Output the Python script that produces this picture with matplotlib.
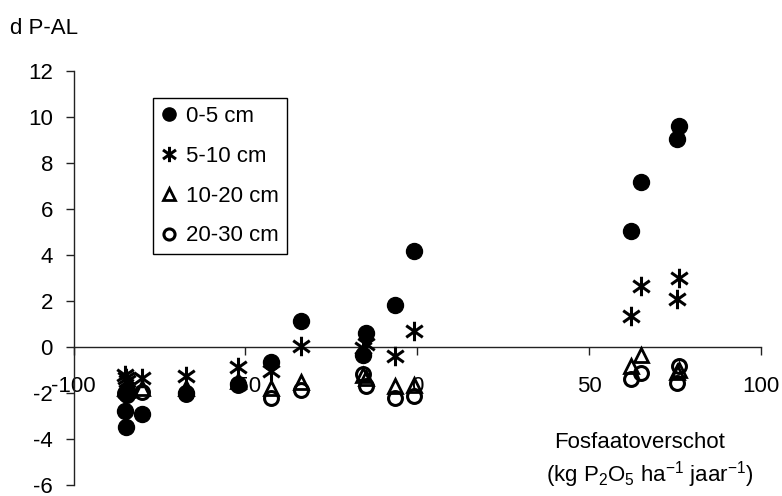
import matplotlib
matplotlib.use("Agg")
import matplotlib.pyplot as plt
from matplotlib.path import Path

plt.rcParams['font.family'] = ['Liberation Sans', 'DejaVu Sans']
plt.rcParams['mathtext.fontset'] = 'custom'
plt.rcParams['mathtext.rm'] = 'Liberation Sans'
plt.rcParams['mathtext.it'] = 'Liberation Sans:italic'
plt.rcParams['mathtext.bf'] = 'Liberation Sans:bold'

# Fosfaatoverschot (kg P2O5/ha/jaar) per perceel
x_overschot = [-84.9, -84.6, -84.4, -80.0, -67.2, -52.2, -42.5, -33.8,
               -15.8, -14.8, -6.6, -0.8, 62.1, 65.1, 75.5, 76.2]
d_0_5 = [-2.8, -3.47, -1.95, -2.93, -2.0, -1.6, -0.66, 1.1,
         -0.38, 0.6, 1.83, 4.15, 5.01, 7.16, 9.04, 9.58]
d_5_10 = [-1.22, -1.35, -1.5, -1.35, -1.26, -0.9, -1.07, 0.03,
          -0.06, 0.1, -0.42, 0.67, 1.32, 2.65, 2.09, 2.99]
d_10_20 = [-1.8, -1.85, -1.9, -1.78, -1.8, -1.5, -1.8, -1.55,
           -1.25, -1.35, -1.72, -1.65, -0.86, -0.36, -1.1, -1.0]
d_20_30 = [-2.0, -2.05, -2.1, -1.97, -2.05, -1.65, -2.23, -1.9,
           -1.2, -1.72, -2.23, -2.16, -1.4, -1.14, -1.58, -0.85]

labels = ['0-5 cm', '5-10 cm', '10-20 cm', '20-30 cm']
x_ticks = [-100, -50, 0, 50, 100]
y_ticks = [-6, -4, -2, 0, 2, 4, 6, 8, 10, 12]

W, H, DPI = 782, 496, 100
fig = plt.figure(figsize=(W / DPI, H / DPI), dpi=DPI)
left, right, top, bottom = 73.5, 761, 70.7, 484.7
ax = fig.add_axes([left / W, 1 - bottom / H, (right - left) / W, (bottom - top) / H])

FS = 16
ast = Path([(0, -1), (0, 1), (-0.85, -0.6), (0.85, 0.6), (-0.85, 0.6), (0.85, -0.6)],
           [Path.MOVETO, Path.LINETO, Path.MOVETO, Path.LINETO, Path.MOVETO, Path.LINETO])
ax.plot(x_overschot, d_0_5, ls='none', marker='o', ms=11.5, mfc='black', mec='black',
        label=labels[0], zorder=3, clip_on=False)
ax.plot(x_overschot, d_5_10, ls='none', marker=ast, ms=14, mfc='none', mec='black', mew=2.2,
        label=labels[1], zorder=3, clip_on=False)
ax.plot(x_overschot, d_10_20, ls='none', marker='^', ms=10.5, mfc='none', mec='black', mew=2,
        label=labels[2], zorder=3, clip_on=False)
ax.plot(x_overschot, d_20_30, ls='none', marker='o', ms=10, mfc='none', mec='black', mew=2.2,
        label=labels[3], zorder=3, clip_on=False)

ax.set_xlim(-100, 100)
ax.set_ylim(-6, 12)
ax.spines['top'].set_visible(False)
ax.spines['right'].set_visible(False)
ax.spines['bottom'].set_position(('data', 0))
for s in ('left', 'bottom'):
    ax.spines[s].set_color('#222222')
    ax.spines[s].set_linewidth(1.0)

ax.set_xticks(x_ticks)
ax.set_xticklabels([str(v) for v in x_ticks])
ax.set_yticks(y_ticks)
ax.set_yticklabels([str(v) for v in y_ticks])
ax.tick_params(axis='x', direction='out', length=5.8, width=1, color='#222222',
               labelsize=FS, pad=15)
ax.tick_params(axis='y', direction='out', length=5.8, width=1, color='#222222',
               labelsize=FS, pad=9)

fig.text(10 / W, 1 - 28 / H, 'd P-AL', fontsize=FS, ha='left', va='center')
fig.text(640 / W, 1 - 448 / H, 'Fosfaatoverschot', fontsize=FS, ha='center', va='baseline')
fig.text(650 / W, 1 - 482 / H,
         r'(kg P$_{\mathrm{2}}$O$_{\mathrm{5}}$ ha$^{\mathrm{-1}}$ jaar$^{\mathrm{-1}}$)',
         fontsize=FS, ha='center', va='baseline')

leg = ax.legend(loc='upper left', bbox_to_anchor=(153 / W, 1 - 98 / H),
                bbox_transform=fig.transFigure, fontsize=FS, frameon=True,
                fancybox=False, edgecolor='black', framealpha=1,
                borderpad=0.35, handlelength=0.75, handletextpad=0.4,
                labelspacing=0.85, borderaxespad=0)
leg.get_frame().set_linewidth(1.0)
for h, ms in zip(leg.legend_handles, [9.5, 11, 8.5, 8]):
    h.set_markersize(ms)

fig.savefig('out.png', dpi=DPI)
